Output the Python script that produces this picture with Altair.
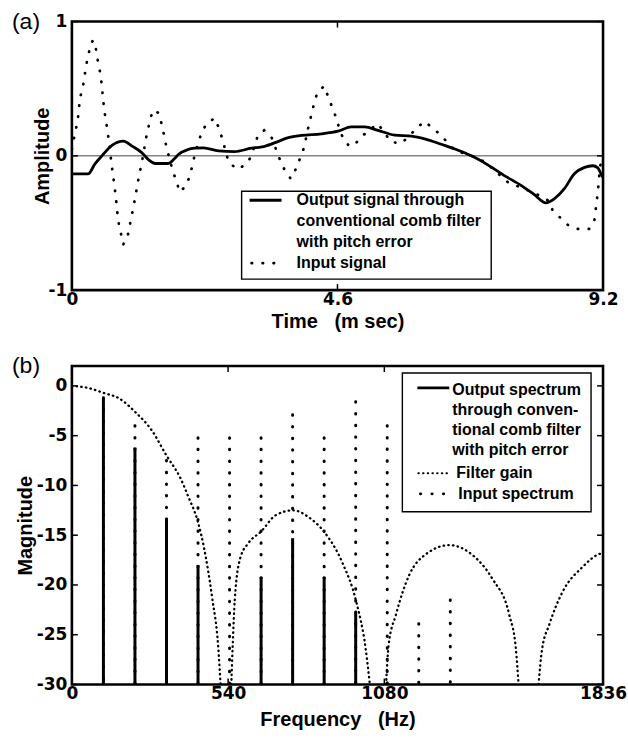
import altair as alt
import pandas as pd

FONT = "Liberation Sans"
TICKFONT = "DejaVu Sans"

# ---------------- panel (a): time signals ----------------
in_t = [0.00, 0.06, 0.10, 0.14, 0.19, 0.25, 0.29, 0.33, 0.37, 0.40, 0.46, 0.50, 0.56, 0.62, 0.69,
        0.76, 0.80, 0.89, 0.97, 1.08, 1.15, 1.22, 1.30, 1.40, 1.50, 1.56, 1.64, 1.74, 1.87, 1.98,
        2.05, 2.13, 2.25, 2.35, 2.48, 2.55, 2.61, 2.71, 2.85, 3.00, 3.10, 3.22, 3.33, 3.46, 3.60,
        3.68, 3.79, 3.89, 4.02, 4.10, 4.19, 4.25, 4.37, 4.44, 4.51, 4.58, 4.64, 4.71, 4.81, 4.90,
        5.04, 5.30, 5.53, 5.71, 5.97, 6.10, 6.23, 6.39, 6.63, 6.95, 7.15, 7.55, 7.90, 8.07, 8.27,
        8.33, 8.47, 8.59, 8.76, 8.96, 9.05, 9.09, 9.12, 9.15, 9.18]
in_a = [0.05, 0.18, 0.26, 0.43, 0.51, 0.68, 0.76, 0.84, 0.86, 0.84, 0.68, 0.60, 0.34, 0.18, -0.07,
        -0.30, -0.48, -0.66, -0.59, -0.35, -0.18, -0.03, 0.17, 0.34, 0.32, 0.23, 0.06, -0.10, -0.27, -0.22,
        -0.14, 0.01, 0.18, 0.25, 0.28, 0.20, 0.12, -0.04, -0.10, -0.07, -0.01, 0.15, 0.19, 0.135, -0.025,
        -0.10, -0.17, -0.09, 0.06, 0.22, 0.38, 0.47, 0.52, 0.44, 0.36, 0.28, 0.19, 0.12, 0.07, 0.086,
        0.152, 0.24, 0.103, 0.093, 0.203, 0.257, 0.215, 0.154, 0.042, -0.005, -0.044, -0.196, -0.257, -0.289, -0.338,
        -0.41, -0.465, -0.514, -0.544, -0.544, -0.478, -0.343, -0.22, -0.074, -0.04]

out_t = [0.00, 0.28, 0.40, 0.52, 0.70, 0.89, 1.05, 1.21, 1.33, 1.44, 1.67, 1.78, 1.85, 2.00, 2.13,
         2.28, 2.54, 2.82, 3.11, 3.29, 3.52, 3.75, 3.98, 4.32, 4.61, 4.84, 5.07, 5.30, 5.59, 5.88,
         6.11, 6.40, 6.69, 6.92, 7.21, 7.49, 7.78, 8.01, 8.21, 8.36, 8.53, 8.70, 8.88, 9.02, 9.11,
         9.18, 9.20]
out_a = [-0.135, -0.135, -0.06, 0.00, 0.08, 0.11, 0.07, 0.024, -0.03, -0.057, -0.057, -0.02, 0.012, 0.045, 0.057,
         0.06, 0.037, 0.032, 0.057, 0.066, 0.098, 0.135, 0.152, 0.164, 0.184, 0.216, 0.215, 0.19, 0.154, 0.147,
         0.127, 0.086, 0.042, 0.0, -0.069, -0.147, -0.22, -0.289, -0.35, -0.319, -0.245, -0.135, -0.086, -0.074, -0.09,
         -0.147, -0.16]

a_xticks = [0, 4.6, 9.2]
a_yticks = [-1, 0, 1]

# ---------------- panel (b): spectra ----------------
in_f = [109, 218, 327, 436, 545, 654, 763, 872, 981, 1090, 1199, 1308]
in_db = [-1.2, -4.0, -7.5, -5.2, -5.2, -5.2, -2.9, -5.2, -1.6, -4.0, -23.9, -21.5]
out_f = [109, 218, 327, 436, 654, 763, 872, 981]
out_db = [-1.2, -6.2, -13.3, -18.0, -19.2, -15.3, -19.2, -22.8]

gain_f = [0, 55, 109, 166, 218, 277, 327, 374, 402, 436, 457, 485, 506, 514,
          551, 556, 563, 582, 610, 655, 704, 765, 819, 873, 934, 984, 1015, 1030,
          1086, 1095, 1120, 1166, 1224, 1305, 1385, 1454, 1512, 1535, 1544,
          1613, 1625, 1650, 1696, 1765, 1822, 1836]
gain_db = [0, -0.2, -0.7, -1.3, -2.6, -4.5, -7.0, -9.2, -11.1, -13.7, -16.3, -21.3, -26.3, -30,
           -30, -26, -21.5, -17.3, -15.8, -14.6, -13.0, -12.5, -13.2, -14.7, -17.7, -21.8, -26.3, -30,
           -30, -26, -23, -19, -16.9, -16.0, -17.0, -19.4, -23, -26.5, -30,
           -30, -26.5, -24, -20.7, -18.2, -16.9, -16.8]
gain_lobe = [1] * 14 + [2] * 14 + [3] * 11 + [4] * 7

b_xticks = [0, 540, 1080, 1836]
b_yticks = [0, -5, -10, -15, -20, -25, -30]

# ---------------- layout constants ----------------
W = 532
HA = 269
HB = 319
TICK = 6
INK = "black"

one = pd.DataFrame({"k": [0]})


def txt(s, x, y, size=16, align="left", baseline="middle", weight="bold"):
    return alt.Chart(one).mark_text(
        align=align, baseline=baseline, font=FONT, fontSize=size,
        fontWeight=weight, color=INK
    ).encode(x=alt.value(x), y=alt.value(y), text=alt.value(s))


def hseg(x1, x2, y, width=2.6, dash=None):
    kw = dict(color=INK, strokeWidth=width)
    if dash is not None:
        kw.update(strokeDash=dash, strokeCap="round")
    return alt.Chart(one).mark_rule(**kw).encode(
        x=alt.value(x1), x2=alt.value(x2), y=alt.value(y))


def box(x1, x2, y1, y2):
    return alt.Chart(one).mark_rect(fill="white", stroke=INK, strokeWidth=1.4).encode(
        x=alt.value(x1), x2=alt.value(x2), y=alt.value(y1), y2=alt.value(y2))


def inward_ticks(xvals, yvals, xscale, yscale, xaxis, yaxis, h):
    xt = pd.DataFrame({"v": xvals})
    yt = pd.DataFrame({"v": yvals})
    xs = alt.X("v:Q", scale=xscale, axis=xaxis)
    ys = alt.Y("v:Q", scale=yscale, axis=yaxis)
    return [
        alt.Chart(xt).mark_rule(color=INK, strokeWidth=1.5).encode(x=xs, y=alt.value(h), y2=alt.value(h - TICK)),
        alt.Chart(xt).mark_rule(color=INK, strokeWidth=1.5).encode(x=xs, y=alt.value(0), y2=alt.value(TICK)),
        alt.Chart(yt).mark_rule(color=INK, strokeWidth=1.5).encode(y=ys, x=alt.value(0), x2=alt.value(TICK)),
        alt.Chart(yt).mark_rule(color=INK, strokeWidth=1.5).encode(y=ys, x=alt.value(W), x2=alt.value(W - TICK)),
    ]


# ================= panel (a) =================
xsa = alt.Scale(domain=[0, 9.2], nice=False, zero=False)
ysa = alt.Scale(domain=[-1, 1], nice=False, zero=False)

xa_axis = alt.Axis(values=a_xticks, labelExpr="'' + datum.value", title="Time\u00a0\u00a0\u00a0(m sec)",
                   titleX=W / 2, titleY=31, titleBaseline="middle", titleAlign="center")
ya_axis = alt.Axis(values=a_yticks, labelExpr="'' + datum.value", title="Amplitude",
                   titleX=-29, titleY=HA / 2, titleBaseline="middle", titleAlign="center", titleAngle=270)

dfa_in = pd.DataFrame({"t": in_t, "a": in_a})
dfa_out = pd.DataFrame({"t": out_t, "a": out_a})
dfa_zero = pd.DataFrame({"a": [0]})

zero_a = alt.Chart(dfa_zero).mark_rule(color="#333", strokeWidth=0.9).encode(
    y=alt.Y("a:Q", scale=ysa, axis=ya_axis))

input_a = alt.Chart(dfa_in).mark_line(
    color=INK, strokeWidth=2.7, strokeDash=[0.5, 10.5], strokeCap="round", clip=True
).encode(x=alt.X("t:Q", scale=xsa, axis=xa_axis), y=alt.Y("a:Q", scale=ysa, axis=ya_axis))

output_a = alt.Chart(dfa_out).mark_line(
    color=INK, strokeWidth=2.8, clip=True, interpolate="monotone"
).encode(x=alt.X("t:Q", scale=xsa, axis=xa_axis), y=alt.Y("a:Q", scale=ysa, axis=ya_axis))

leg_a_lines = ["Output signal through", "conventional comb filter", "with pitch error"]
leg_a = [box(170, 420, 170, 258), hseg(178, 210, 179, 2.8)]
for i, s in enumerate(leg_a_lines):
    leg_a.append(txt(s, 225, 179 + i * 21, 16))
leg_a.append(hseg(180, 210, 242, 2.7, [0.5, 10.5]))
leg_a.append(txt("Input signal", 225, 242, 16))

panel_a = alt.layer(
    zero_a, input_a, output_a,
    *inward_ticks(a_xticks, a_yticks, xsa, ysa, xa_axis, ya_axis, HA),
    *leg_a,
    txt("(a)", -60, 0, 23, weight="normal"),
).properties(width=W, height=HA)

# ================= panel (b) =================
xsb = alt.Scale(domain=[0, 1836], nice=False, zero=False)
ysb = alt.Scale(domain=[-30, 2], nice=False, zero=False)

xb_axis = alt.Axis(values=b_xticks, labelExpr="'' + datum.value", title="Frequency\u00a0\u00a0\u00a0(Hz)",
                   titleX=W / 2, titleY=35, titleBaseline="middle", titleAlign="center")
yb_axis = alt.Axis(values=b_yticks, labelExpr="'' + datum.value", title="Magnitude",
                   titleX=-46, titleY=HB / 2, titleBaseline="middle", titleAlign="center", titleAngle=270)

dfb_in = pd.DataFrame({"f": in_f, "db": in_db})
dfb_out = pd.DataFrame({"f": out_f, "db": out_db})
dfb_gain = pd.DataFrame({"f": gain_f, "db": gain_db, "lobe": gain_lobe})

gain_b = alt.Chart(dfb_gain).mark_line(
    color=INK, strokeWidth=2.3, strokeDash=[0.5, 4.2], strokeCap="round", clip=True, interpolate="monotone"
).encode(x=alt.X("f:Q", scale=xsb, axis=xb_axis), y=alt.Y("db:Q", scale=ysb, axis=yb_axis),
         detail="lobe:N")

input_b = alt.Chart(dfb_in).mark_rule(
    color=INK, strokeWidth=3, strokeDash=[0.5, 11.2], strokeCap="round"
).encode(x=alt.X("f:Q", scale=xsb, axis=xb_axis), y=alt.Y("db:Q", scale=ysb, axis=yb_axis),
         y2=alt.datum(-30))

output_b = alt.Chart(dfb_out).mark_rule(color=INK, strokeWidth=3).encode(
    x=alt.X("f:Q", scale=xsb, axis=xb_axis), y=alt.Y("db:Q", scale=ysb, axis=yb_axis), y2=alt.datum(-30))

leg_b_lines = ["Output spectrum", "through conven-", "tional comb filter", "with pitch error"]
leg_b = [box(331, 520, 7, 146), hseg(346, 378, 22, 2.8)]
for i, s in enumerate(leg_b_lines):
    leg_b.append(txt(s, 381, 24 + i * 20.2, 16))
leg_b.append(hseg(347, 379, 107.5, 2.0, [0.5, 4.2]))
leg_b.append(txt("Filter gain", 385, 107.5, 16))
leg_b.append(hseg(349, 375, 128, 2.7, [0.5, 11]))
leg_b.append(txt("Input spectrum", 387, 128, 16))

panel_b = alt.layer(
    gain_b, input_b, output_b,
    *inward_ticks(b_xticks, b_yticks, xsb, ysb, xb_axis, yb_axis, HB),
    *leg_b,
    txt("(b)", -60, 0, 23, weight="normal"),
).properties(width=W, height=HB)

chart = alt.vconcat(panel_a, panel_b, spacing=76, bounds="flush").configure(
    padding={"left": 10, "top": 8, "right": 0, "bottom": 0},
    background="white",
).configure_view(
    stroke=INK, strokeWidth=2.6
).configure_axis(
    labelFont=TICKFONT, labelFontSize=17, labelFontWeight="bold", labelColor=INK,
    titleFont=FONT, titleFontSize=20, titleFontWeight="bold", titleColor=INK,
    domain=False, ticks=False, grid=False, labelOverlap=False, labelFlush=False,
).configure_axisX(
    labelPadding=1
).configure_axisY(
    labelPadding=5
)

chart.save("out.html", embed_options={"renderer": "svg", "actions": False})
